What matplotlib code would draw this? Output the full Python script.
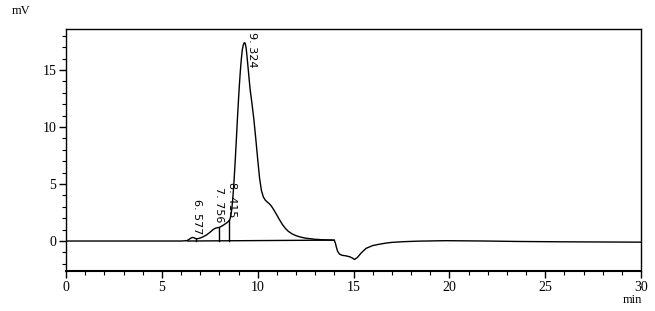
import numpy as np
import matplotlib
matplotlib.use("Agg")
import matplotlib.pyplot as plt
from matplotlib.ticker import MultipleLocator

# chromatogram trace (min, mV)
t = [0.0, 3.0, 6.0, 6.3, 6.4, 6.5, 6.58, 6.66, 6.75, 6.85, 6.98, 7.15, 7.33,
     7.5, 7.67, 7.8, 7.9, 7.97, 8.1, 8.2, 8.35, 8.46, 8.54, 8.6, 8.65, 8.7,
     8.75, 8.8, 8.85, 8.9, 8.95, 9.0, 9.05, 9.1, 9.15, 9.2, 9.25, 9.3, 9.35,
     9.4, 9.45, 9.5, 9.6, 9.7, 9.8, 9.9, 10.0, 10.1, 10.2, 10.3, 10.4, 10.5,
     10.6, 10.7, 10.8, 10.9, 11.0, 11.1, 11.2, 11.3, 11.45, 11.6, 11.8, 12.0,
     12.25, 12.5, 13.0, 13.4, 13.9, 14.0, 14.05, 14.1, 14.17, 14.27, 14.4,
     14.6, 14.8, 14.95, 15.05, 15.2, 15.4, 15.66, 16.0, 16.35, 16.7, 17.0,
     17.57, 18.4, 19.8, 21.9, 23.6, 26.0, 30.0]
mv = [0.0, 0.0, 0.0, 0.03, 0.12, 0.24, 0.31, 0.3, 0.22, 0.2, 0.25, 0.37, 0.53,
      0.75, 1.0, 1.13, 1.17, 1.18, 1.28, 1.38, 1.55, 1.7, 1.85, 2.2, 2.8, 3.7,
      4.8, 6.2, 7.7, 9.3, 10.9, 12.4, 13.8, 15.0, 16.0, 16.8, 17.2, 17.4, 17.35,
      16.9, 16.1, 15.2, 13.4, 12.1, 10.7, 9.0, 7.2, 5.5, 4.4, 3.85, 3.58, 3.42,
      3.28, 3.1, 2.85, 2.57, 2.28, 1.98, 1.7, 1.43, 1.1, 0.85, 0.62, 0.47,
      0.34, 0.25, 0.15, 0.11, 0.08, 0.05, -0.15, -0.5, -0.9, -1.15, -1.25,
      -1.3, -1.38, -1.5, -1.62, -1.45, -1.05, -0.64, -0.4, -0.28, -0.18, -0.12,
      -0.06, -0.01, 0.03, 0.0, -0.04, -0.07, -0.1]

# integration baseline and peak boundaries
base_t = [6.35, 14.0]
base_v = [0.0, 0.08]
drop_t = [6.77, 7.97, 8.52]
drop_top = [0.21, 1.18, 1.82]

peak_rt = ["6. 577", "7. 756", "8. 415", "9. 324"]
label_x = [6.82, 7.97, 8.68, 9.72]
label_y = [0.55, 1.6, 2.1, 18.3]
label_va = ["bottom", "bottom", "bottom", "top"]

fig = plt.figure(figsize=(6.55, 3.11), dpi=100)
ax = fig.add_axes([66 / 655, 1 - 271 / 311, (641 - 66) / 655, (271 - 29) / 311])

ax.plot(t, mv, color="black", lw=1.0)
ax.plot(base_t, base_v, color="black", lw=1.0)
for x0, top in zip(drop_t, drop_top):
    b = np.interp(x0, base_t, base_v)
    ax.plot([x0, x0], [b, top], color="black", lw=1.0)

for lab, x0, y0, va in zip(peak_rt, label_x, label_y, label_va):
    ax.text(x0, y0, lab, rotation=270, ha="center", va=va, fontsize=8,
            family="DejaVu Sans")

ax.set_xlim(0, 30)
ax.set_ylim(-2.63, 18.6)
ax.xaxis.set_major_locator(MultipleLocator(5))
ax.xaxis.set_minor_locator(MultipleLocator(1))
ax.yaxis.set_major_locator(MultipleLocator(5))
ax.yaxis.set_minor_locator(MultipleLocator(1))
ax.tick_params(which="major", direction="out", length=5, width=1, pad=2)
ax.tick_params(which="minor", direction="out", length=3, width=0.8)
for lbl in ax.get_xticklabels() + ax.get_yticklabels():
    lbl.set_family("Liberation Serif")
    lbl.set_fontsize(10)
for s in ax.spines.values():
    s.set_linewidth(1.0)
ax.spines["bottom"].set_linewidth(1.5)

fig.text(12 / 655, 1 - 11 / 311, "mV", family="Liberation Serif", fontsize=9,
         ha="left", va="center")
fig.text(632 / 655, 1 - 300 / 311, "min", family="Liberation Serif", fontsize=9,
         ha="center", va="center")

fig.savefig("out.png", dpi=100)
